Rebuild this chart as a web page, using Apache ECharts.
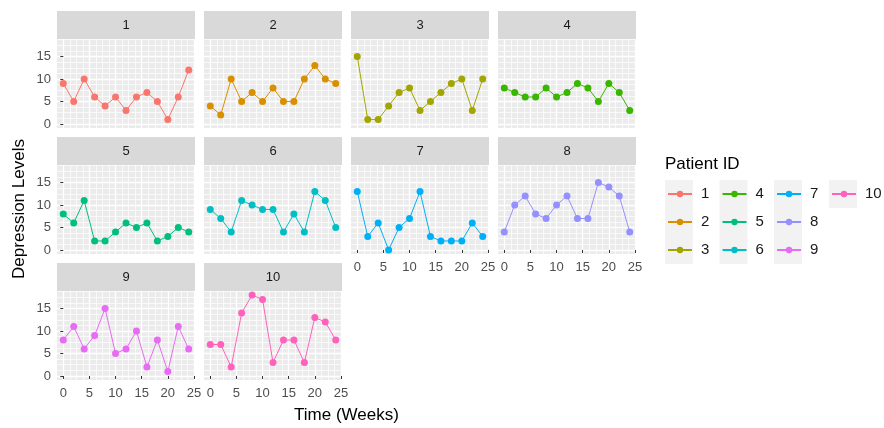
<!DOCTYPE html>
<html>
<head>
<meta charset="utf-8">
<script src="https://cdn.jsdelivr.net/npm/echarts@6/dist/echarts.min.js"></script>
<style>
  html, body { margin: 0; padding: 0; background: #ffffff; }
  #chart { width: 884px; height: 428px; }
</style>
</head>
<body>
<div id="chart"></div>
<script>
// Depression levels measured every two weeks for ten patients
const weeks = [0, 2, 4, 6, 8, 10, 12, 14, 16, 18, 20, 22, 24];
const patientIds = ['1', '2', '3', '4', '5', '6', '7', '8', '9', '10'];

const patient1  = [9, 5, 10, 6, 4, 6, 3, 6, 7, 5, 1, 6, 12];
const patient2  = [4, 2, 10, 5, 7, 5, 8, 5, 5, 10, 13, 10, 9];
const patient3  = [15, 1, 1, 4, 7, 8, 3, 5, 7, 9, 10, 3, 10];
const patient4  = [8, 7, 6, 6, 8, 6, 7, 9, 8, 5, 9, 7, 3];
const patient5  = [8, 6, 11, 2, 2, 4, 6, 5, 6, 2, 3, 5, 4];
const patient6  = [9, 7, 4, 11, 10, 9, 9, 4, 8, 4, 13, 11, 5];
const patient7  = [13, 3, 6, 0, 5, 7, 13, 3, 2, 2, 2, 6, 3];
const patient8  = [4, 10, 12, 8, 7, 10, 12, 7, 7, 15, 14, 12, 4];
const patient9  = [8, 11, 6, 9, 15, 5, 6, 10, 2, 8, 1, 11, 6];
const patient10 = [7, 7, 2, 14, 18, 17, 3, 8, 8, 3, 13, 12, 8];

const levels = [patient1, patient2, patient3, patient4, patient5,
                patient6, patient7, patient8, patient9, patient10];

const xTicks = [0, 5, 10, 15, 20, 25];
const yTicks = [0, 5, 10, 15];

// ggplot2 default hue palette for ten groups
const palette = ['#F8766D', '#D89000', '#A3A500', '#39B600', '#00BF7D',
                 '#00BFC4', '#00B0F6', '#9590FF', '#E76BF3', '#FF62BC'];

// Facet layout (4 columns x 3 rows)
const NCOL = 4;
const PANEL_LEFT = 57, PANEL_STEP_X = 147, PANEL_W = 138;
const STRIP_TOP = 11, ROW_STEP = 126, STRIP_H = 28, PANEL_H = 89;
const X_MIN = -1.2, X_MAX = 25.2;   // 0..24 with 5% expansion
const Y_MIN = -0.9, Y_MAX = 18.9;   // 0..18 with 5% expansion
const FONT = '"Liberation Sans", Arial, sans-serif';

function gridLines(lo, hi, step) {
  const out = [];
  for (let v = 0; v <= hi + 1e-9; v += step) if (v >= lo) out.push(+v.toFixed(4));
  return out;
}
const xFine = gridLines(X_MIN, X_MAX, 1.25);
const yFine = gridLines(Y_MIN, Y_MAX, 1.25);

const grids = [], xAxes = [], yAxes = [], series = [], graphics = [];
const n = patientIds.length;

for (let i = 0; i < n; i++) {
  const row = Math.floor(i / NCOL), col = i % NCOL;
  const left = PANEL_LEFT + col * PANEL_STEP_X;
  const stripTop = STRIP_TOP + row * ROW_STEP;
  const top = stripTop + STRIP_H;

  grids.push({
    left: left, top: top, width: PANEL_W, height: PANEL_H,
    show: true, backgroundColor: '#EBEBEB', borderWidth: 0, z: 0
  });

  // strip header
  graphics.push({
    type: 'rect', left: left, top: stripTop, z: 1,
    shape: { width: PANEL_W, height: STRIP_H },
    style: { fill: '#D9D9D9' }
  });
  graphics.push({
    type: 'text', x: left + PANEL_W / 2, y: stripTop + STRIP_H / 2, z: 2,
    style: { text: patientIds[i], fill: '#1A1A1A', font: '13px ' + FONT,
             align: 'center', verticalAlign: 'middle' }
  });
}

// major axes carrying the data (indices 0..n-1)
for (let i = 0; i < n; i++) {
  const col = i % NCOL;
  const showX = i + NCOL >= n;
  const showY = col === 0;
  xAxes.push({
    type: 'value', gridIndex: i, min: X_MIN, max: X_MAX, position: 'bottom', z: 2,
    axisLine: { show: false },
    axisTick: { show: showX, customValues: xTicks, length: 3, lineStyle: { color: '#333333', width: 1 } },
    axisLabel: { show: showX, customValues: xTicks, margin: 7, color: '#4D4D4D',
                 fontSize: 13, fontFamily: FONT },
    splitLine: { show: true, lineStyle: { color: '#FFFFFF', width: 1.3 } }
  });
  yAxes.push({
    type: 'value', gridIndex: i, min: Y_MIN, max: Y_MAX, position: 'left', z: 2,
    axisLine: { show: false },
    axisTick: { show: showY, customValues: yTicks, length: 3, lineStyle: { color: '#333333', width: 1 } },
    axisLabel: { show: showY, customValues: yTicks, margin: 6, color: '#4D4D4D',
                 fontSize: 13, fontFamily: FONT },
    splitLine: { show: true, lineStyle: { color: '#FFFFFF', width: 1.3 } }
  });
}
// fine grid axes (indices n..2n-1)
for (let i = 0; i < n; i++) {
  xAxes.push({
    type: 'value', gridIndex: i, min: X_MIN, max: X_MAX, z: 1,
    axisLine: { show: false },
    axisTick: { show: false, customValues: xFine },
    axisLabel: { show: false },
    splitLine: { show: true, lineStyle: { color: '#FFFFFF', width: 0.7 } }
  });
  yAxes.push({
    type: 'value', gridIndex: i, min: Y_MIN, max: Y_MAX, z: 1,
    axisLine: { show: false },
    axisTick: { show: false, customValues: yFine },
    axisLabel: { show: false },
    splitLine: { show: true, lineStyle: { color: '#FFFFFF', width: 0.7 } }
  });
}

for (let i = 0; i < n; i++) {
  series.push({
    name: patientIds[i],
    type: 'line',
    xAxisIndex: i, yAxisIndex: i,
    data: weeks.map((w, k) => [w, levels[i][k]]),
    symbol: 'circle', symbolSize: 7,
    color: palette[i],
    lineStyle: { width: 1, color: palette[i] },
    itemStyle: { color: palette[i] },
    z: 5, silent: true, animation: false
  });
}

// legend: key backgrounds, title and four columns of entries
const LEG_COL_X = [679, 733.5, 788, 843];
const LEG_ROW_Y = [194, 222, 250];
const KEY = 28;
const LEG_LINE_H = 16;
const legendCols = [['1', '2', '3'], ['4', '5', '6'], ['7', '8', '9'], ['10']];
const legends = [];
legendCols.forEach((names, c) => {
  graphics.push({
    type: 'rect', left: LEG_COL_X[c] - KEY / 2, top: LEG_ROW_Y[0] - KEY / 2, z: 0,
    shape: { width: KEY, height: KEY * names.length },
    style: { fill: '#F2F2F2' }
  });
  legends.push({
    orient: 'vertical', left: LEG_COL_X[c] - 12, top: LEG_ROW_Y[0] - LEG_LINE_H / 2,
    itemWidth: 24, itemHeight: 8, itemGap: KEY - LEG_LINE_H, padding: 0,
    selectedMode: false,
    data: names,
    textStyle: { color: '#1A1A1A', fontSize: 15, lineHeight: LEG_LINE_H, fontFamily: FONT,
                 padding: [0, 0, 0, 4] }
  });
});
graphics.push({
  type: 'text', x: 665, y: 164, z: 2,
  style: { text: 'Patient ID', fill: '#000000', font: '17px ' + FONT,
           align: 'left', verticalAlign: 'middle' }
});

// axis titles
graphics.push({
  type: 'text', x: PANEL_LEFT + (PANEL_STEP_X * (NCOL - 1) + PANEL_W) / 2, y: 415, z: 2,
  style: { text: 'Time (Weeks)', fill: '#000000', font: '17px ' + FONT,
           align: 'center', verticalAlign: 'middle' }
});
graphics.push({
  type: 'text', x: 19, y: 209, rotation: Math.PI / 2, z: 2,
  style: { text: 'Depression Levels', fill: '#000000', font: '17px ' + FONT,
           align: 'center', verticalAlign: 'middle' }
});

const chart = echarts.init(document.getElementById('chart'), null, { renderer: 'canvas' });
chart.setOption({
  backgroundColor: '#FFFFFF',
  animation: false,
  grid: grids,
  xAxis: xAxes,
  yAxis: yAxes,
  legend: legends,
  series: series,
  graphic: { elements: graphics }
});
</script>
</body>
</html>
